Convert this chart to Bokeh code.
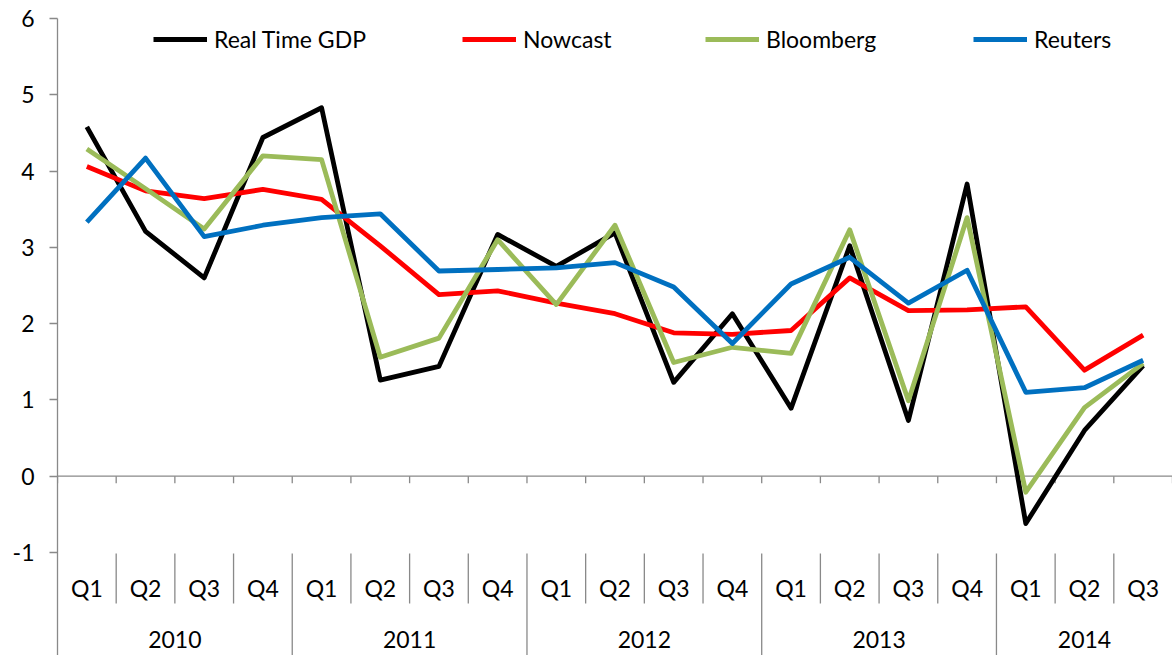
from bokeh.plotting import figure
from bokeh.models import Range1d, FixedTicker, Legend, LegendItem, ColumnDataSource
from bokeh.embed import file_html
from bokeh.resources import INLINE
from bokeh.core.properties import value

# ---- data ----
years = ["2010", "2011", "2012", "2013", "2014"]
quarters_per_year = [4, 4, 4, 4, 3]
quarters = ["Q1", "Q2", "Q3", "Q4"] * 4 + ["Q1", "Q2", "Q3"]
real_time_gdp = [4.58, 3.21, 2.60, 4.44, 4.83, 1.26, 1.44, 3.17, 2.75, 3.19,
                 1.23, 2.13, 0.89, 3.02, 0.73, 3.83, -0.62, 0.60, 1.45]
nowcast = [4.06, 3.74, 3.64, 3.76, 3.63, 3.02, 2.38, 2.43, 2.27, 2.13,
           1.88, 1.86, 1.91, 2.60, 2.17, 2.18, 2.22, 1.39, 1.85]
bloomberg = [4.29, 3.77, 3.24, 4.20, 4.15, 1.56, 1.81, 3.10, 2.25, 3.29,
             1.49, 1.69, 1.61, 3.23, 0.99, 3.39, -0.21, 0.90, 1.48]
reuters = [3.33, 4.17, 3.14, 3.29, 3.39, 3.44, 2.69, 2.71, 2.73, 2.80,
           2.48, 1.74, 2.52, 2.87, 2.27, 2.70, 1.10, 1.16, 1.52]
y_ticks = [-1, 0, 1, 2, 3, 4, 5, 6]
y_tick_labels = ["-1", "0", "1", "2", "3", "4", "5", "6"]

series = [
    ("Real Time GDP", real_time_gdp, "#000000"),
    ("Nowcast", nowcast, "#FF0000"),
    ("Bloomberg", bloomberg, "#9BBB59"),
    ("Reuters", reuters, "#0070C0"),
]

# ---- layout ----
W, H = 1172, 655
LEFT, TOP = 57, 18
Y_MIN_TICK, Y_MAX = -1, 6
frame_h = H - TOP
y_tick_px = 552 - TOP                      # px between 6 and -1
ppu = y_tick_px / (Y_MAX - Y_MIN_TICK)     # px per unit
y_bottom = Y_MAX - frame_h / ppu
def px(v):
    return v / ppu

FONT = "Lato"
FS = "23px"
AX = "#898989"

n = len(quarters)
x = [i + 0.5 for i in range(n)]

p = figure(width=W, height=H, x_range=Range1d(0, n), y_range=Range1d(y_bottom, Y_MAX),
           x_axis_location=None, y_axis_location="left",
           output_backend="svg", toolbar_location=None,
           min_border_left=LEFT, min_border_right=0, min_border_top=TOP, min_border_bottom=0)
p.outline_line_color = None
p.grid.visible = False
p.background_fill_color = "white"

ya = p.yaxis[0]
ya.bounds = (y_bottom, Y_MAX)
ya.ticker = FixedTicker(ticks=y_ticks)
ya.major_label_overrides = {t: lab for t, lab in zip(y_ticks, y_tick_labels)}
ya.minor_tick_line_color = None
ya.major_tick_in = 0
ya.major_tick_out = 8
ya.axis_line_color = AX
ya.axis_line_width = 1.3
ya.major_tick_line_color = AX
ya.major_tick_line_width = 1.3
ya.major_label_text_font = FONT
ya.major_label_text_font_size = FS
ya.major_label_text_color = "black"
ya.major_label_standoff = 15

# zero line and its ticks
bounds = list(range(n + 1))
p.line(x=[0, n], y=[0, 0], line_color=AX, line_width=1.3)
p.segment(x0=bounds, y0=[0] * len(bounds), x1=bounds, y1=[-px(7)] * len(bounds),
          line_color=AX, line_width=1.3)

# category axis separators
year_bounds = [0]
for c in quarters_per_year:
    year_bounds.append(year_bounds[-1] + c)
q_sep = [b for b in range(1, n) if b not in year_bounds]
y_sep = [b for b in year_bounds[1:-1]]
p.segment(x0=q_sep, y0=[-1 - px(1)] * len(q_sep), x1=q_sep, y1=[-1 - px(51)] * len(q_sep),
          line_color=AX, line_width=1.3)
p.segment(x0=y_sep, y0=[-1 - px(1)] * len(y_sep), x1=y_sep, y1=[y_bottom] * len(y_sep),
          line_color=AX, line_width=1.3)

# quarter & year labels
p.text(x=x, y=[-1 - px(35)] * n, text=quarters, text_font=value(FONT), text_font_size=FS,
       text_align="center", text_baseline="middle", text_color="black")
year_centers = [(year_bounds[i] + year_bounds[i + 1]) / 2 for i in range(len(years))]
p.text(x=year_centers, y=[-1 - px(87)] * len(years), text=years, text_font=value(FONT),
       text_font_size=FS, text_align="center", text_baseline="middle", text_color="black")

# series
renderers = []
for name, vals, col in series:
    src = ColumnDataSource(dict(x=x, y=vals))
    r = p.line("x", "y", source=src, line_color=col, line_width=4.8, line_join="round")
    renderers.append((name, r))

legend_x = [96, 405, 648, 916]
for (name, r), lx in zip(renderers, legend_x):
    leg = Legend(items=[LegendItem(label=name, renderers=[r])], location=(lx, frame_h - 35),
                 orientation="horizontal", glyph_width=54, glyph_height=26, label_height=26,
                 label_standoff=7, padding=0, margin=0, spacing=0,
                 border_line_color=None, background_fill_alpha=0,
                 label_text_font=FONT, label_text_font_size="23px", label_text_color="black")
    p.add_layout(leg)

open("out.html", "w").write(file_html(p, INLINE))
